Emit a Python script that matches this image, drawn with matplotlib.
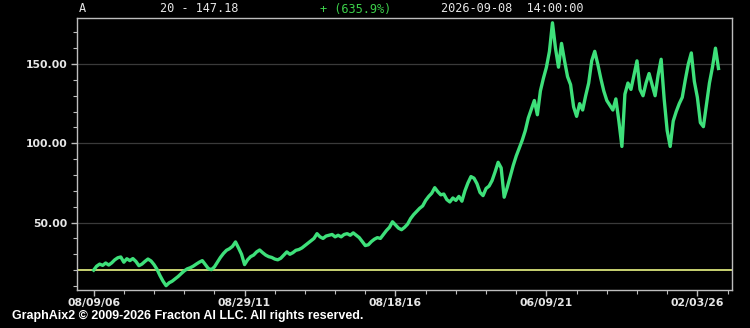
import matplotlib
matplotlib.use("Agg")
import matplotlib.pyplot as plt
from matplotlib.ticker import MultipleLocator, FormatStrFormatter
from matplotlib import font_manager
import numpy as np

# price series, one value per ~0.1 year
prices = [
    20.0, 22.5, 23.8, 23.0, 24.5, 23.2, 24.6, 26.5, 27.8, 28.3,
    25.0, 27.2, 26.0, 27.3, 25.5, 22.8, 23.8, 25.5, 27.0, 25.8,
    23.5, 20.5, 16.5, 13.0, 10.2, 12.0, 13.0, 14.5, 16.0, 17.8,
    19.5, 20.8, 21.5, 22.5, 23.8, 25.0, 26.0, 23.5, 21.0, 20.3,
    22.0, 25.0, 28.0, 30.5, 32.5, 33.5, 35.0, 37.8, 34.0, 30.0,
    23.5, 26.5, 28.5, 29.5, 31.5, 32.7, 31.0, 29.5, 28.5, 28.0,
    27.0, 26.5, 27.5, 29.5, 31.5, 30.0, 31.0, 32.5, 33.0, 34.0,
    35.5, 37.0, 38.5, 40.0, 43.0, 41.0, 40.0, 41.5, 42.0, 42.5,
    41.0, 42.0, 41.0, 42.5, 43.0, 42.0, 43.5, 42.0, 40.5, 38.0,
    35.5, 36.0, 38.0, 39.5, 40.5, 40.0, 42.5, 45.0, 47.0, 50.5,
    48.5, 46.5, 45.5, 47.0, 49.0, 52.5, 55.0, 57.0, 59.0, 60.5,
    64.0, 66.5, 68.5, 72.0, 69.5, 67.5, 68.0, 64.5, 63.0, 65.5,
    64.0, 66.5, 63.5, 70.0, 75.0, 79.0, 78.0, 74.5, 69.0, 67.0,
    71.5, 73.0, 76.5, 82.0, 88.0, 84.5, 66.0, 72.0, 79.0, 86.0,
    92.0, 97.0, 102.0, 108.0, 116.0, 121.5, 127.0, 118.0, 133.0, 141.0,
    148.0, 158.0, 176.0, 160.0, 148.0, 163.0, 152.0, 142.0, 137.0, 123.0,
    117.0, 125.0, 121.0, 130.0, 138.0, 152.0, 158.0, 150.0, 141.0, 133.0,
    127.0, 124.0, 121.0, 128.0, 114.0, 98.0, 131.0, 138.0, 134.0, 143.0,
    152.0, 134.0, 130.0, 138.0, 144.0, 137.0, 130.0, 143.0, 153.0, 128.0,
    108.0, 98.0, 114.0, 120.0, 125.0, 129.0, 140.0, 150.0, 157.0, 139.0,
    129.0, 113.0, 110.5, 124.0, 138.0, 148.0, 160.0, 147.18,
]
base_price = 20.0
date_labels = ["08/09/06", "08/29/11", "08/18/16", "06/09/21", "02/03/26"]
label_every = 50

ticker = "A"
header_range = "20 - 147.18"
header_change = "+ (635.9%)"
header_time = "2026-09-08  14:00:00"
footer = "GraphAix2 \u00a9 2009-2026 Fracton AI LLC. All rights reserved."

bg = "black"
line_green = "#3ee07a"
base_yellow = "#d8e27a"
axis_gray = "#bdbdbd"
text_col = "#e6e6e6"

fig = plt.figure(figsize=(7.5, 3.28), dpi=100, facecolor=bg)
ax = fig.add_axes([0.1027, 0.116, 0.873, 0.829], facecolor=bg)

x = np.arange(len(prices))
ax.axhline(base_price, color=base_yellow, lw=1.3, zorder=2)
ax.plot(x, prices, color=line_green, lw=2.4, zorder=3)

ax.set_xlim(-5.5, 211.4)
ax.set_ylim(7.5, 179.0)

ax.yaxis.set_major_locator(MultipleLocator(50))
ax.yaxis.set_minor_locator(MultipleLocator(10))
ax.yaxis.set_major_formatter(FormatStrFormatter("%.2f"))
ax.set_xticks([i * label_every for i in range(len(date_labels))])
ax.set_xticklabels(date_labels)
ax.xaxis.set_minor_locator(MultipleLocator(10))

ax.grid(axis="y", which="major", color="#3a3a3a", lw=0.9)
ax.set_axisbelow(True)

for s in ax.spines.values():
    s.set_color(axis_gray)
    s.set_linewidth(1.0)

ax.tick_params(which="major", length=4, color=axis_gray, width=1.0)
ax.tick_params(which="minor", length=3, color=axis_gray, width=0.8)
ax.tick_params(axis="y", which="both", right=False)
ax.tick_params(axis="x", which="both", top=False)
ax.tick_params(axis="y", labelsize=7.8, labelcolor=text_col, pad=3)
ax.tick_params(axis="x", labelsize=7.8, labelcolor=text_col, pad=2)
for lab in ax.get_xticklabels() + ax.get_yticklabels():
    lab.set_fontweight("bold")

mono = dict(family="DejaVu Sans Mono", fontsize=8.6, va="center", ha="left")
fig.text(79 / 750, 1 - 9 / 328, ticker, color=text_col, **mono)
fig.text(160 / 750, 1 - 9 / 328, header_range, color=text_col, **mono)
fig.text(320 / 750, 1 - 9 / 328, header_change, color="#3ccf4a", **mono)
fig.text(441 / 750, 1 - 9 / 328, header_time, color=text_col, **mono)

names = {f.name for f in font_manager.fontManager.ttflist}
if "Liberation Sans Narrow" in names:
    foot_font, foot_size = "Liberation Sans Narrow", 10.0
else:
    foot_font, foot_size = "Liberation Sans", 9.0
fig.text(12 / 750, 1 - 316 / 328, footer, color="white", fontsize=foot_size,
         family=foot_font, fontweight="bold", va="center", ha="left")

fig.savefig("out.png", dpi=100, facecolor=bg)
